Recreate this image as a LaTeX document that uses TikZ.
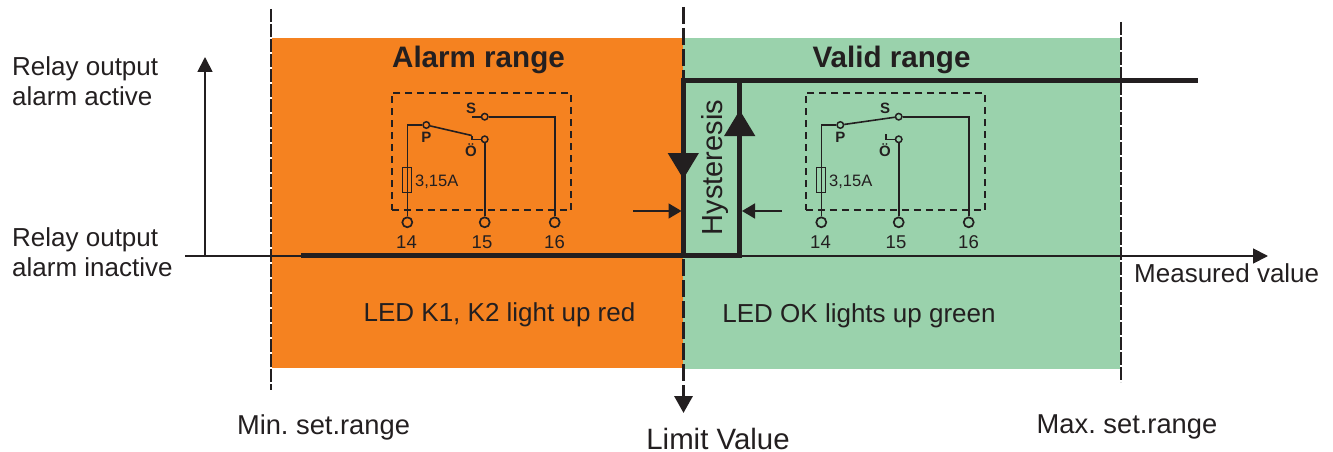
\documentclass[tikz,border=0pt]{standalone}
\usepackage{fontspec}
\setmainfont{Liberation Sans}
\frenchspacing
\usepackage{xcolor}
\definecolor{AlarmOrange}{RGB}{245, 130, 32}
\definecolor{ValidGreen}{RGB}{154, 210, 172}
\definecolor{InkBlack}{RGB}{35, 31, 32}
\usetikzlibrary{arrows.meta, positioning, calc}

\begin{document}
\begin{tikzpicture}[
  x=1pt, y=-1pt, color=InkBlack,
  lbl/.style={inner sep=0pt, align=left, font=\fontsize{26}{30}\selectfont},
  rangelbl/.style={inner sep=0pt, font=\fontsize{29.6}{33}\selectfont\bfseries},
  contact/.style={circle, draw, inner sep=0pt, minimum size=6.5pt, line width=1.5pt},
  terminal/.style={circle, draw, inner sep=0pt, minimum size=10pt, line width=1.7pt},
  pinlbl/.style={inner sep=0pt, font=\fontsize{15}{16}\selectfont\bfseries},
  numlbl/.style={inner sep=0pt, font=\fontsize{18.5}{20}\selectfont},
  wire/.style={line width=1.6pt},
  limit/.style={dash pattern=on 13pt off 2pt, line width=2.4pt},
  limitmid/.style={dash pattern=on 17pt off 4pt, line width=3.3pt},
  signal/.style={line width=4.6pt, line cap=butt, line join=miter},
  arr/.style={-{Triangle[length=15pt,width=15pt]}, line width=1.8pt},
  markarr/.style={-{Triangle[length=13pt,width=15pt]}, line width=1.7pt},
  bigarr/.style={-{Triangle[length=26pt,width=30pt]}, line width=4.6pt}
]
  \useasboundingbox (0,0) rectangle (1333,452);

  % ranges
  \node[fill=AlarmOrange, inner sep=0pt, minimum width=411pt, minimum height=330pt] (alarm) at (477.5,203) {};
  \node[fill=ValidGreen, inner sep=0pt, minimum width=437pt, minimum height=330pt] (valid) at (901.5,203.5) {};
  \node[rangelbl] (alarmlbl) at (478.5,60) {Alarm range};
  \node[rangelbl] (validlbl) at (891.5,60) {Valid range};
  \node[lbl] (alarmled) at (499.5,315) {LED K1, K2 light up red};
  \node[lbl] (validled) at (859,316) {LED OK lights up green};

  % relay boxes
  \foreach \rel/\dx in {a/0, b/414} {
    \begin{scope}[shift={(\dx,0)}, name prefix=\rel-]
      \node[draw, dash pattern=on 7pt off 5pt, line width=1.8pt, inner sep=0pt, minimum width=179.5pt, minimum height=117.5pt] (box) at (481.5,151.5) {};
      \node[contact] (P) at (426.3,125) {};
      \node[contact] (S) at (484.7,116.7) {};
      \node[contact] (O) at (484.7,139.3) {};
      \node[terminal] (t14) at (407.3,222.3) {};
      \node[terminal] (t15) at (484.7,222.3) {};
      \node[terminal] (t16) at (554.7,222.3) {};
      \node[draw, inner sep=0pt, line width=1pt, minimum width=8.7pt, minimum height=25pt] (fuse) at (407.3,179.8) {};
      \node[numlbl] (n14) at (406.5,242) {14};
      \node[numlbl] (n15) at (482,242) {15};
      \node[numlbl] (n16) at (554.5,242) {16};
      \node[pinlbl] (Pl) at (426.3,137.5) {P};
      \node[pinlbl] (Sl) at (471,108.5) {S};
      \node[pinlbl] (Ol) at (471,150.5) {Ö};
      \node[inner sep=0pt, anchor=west, font=\fontsize{16.5}{18}\selectfont] (fuselbl) at (415,181.5) {3,15A};
      \draw[wire] (t14) |- (P);
      \draw[wire] (t15) -- (O);
      \draw[wire] (t16) |- (S);
    \end{scope}
  }

  % contact arms
  \coordinate (a-Sstub) at (471.7,116.7);
  \coordinate (a-Ostub) at (471.7,139.3);
  \coordinate (a-Otick) at (471.7,135.5);
  \coordinate (b-Ostub) at (885.7,139.3);
  \coordinate (b-Otick) at (885.7,134.3);
  \draw[wire] (a-S) -- (a-Sstub);
  \draw[wire] (a-P) -- (a-Otick);
  \draw[wire] (a-O) -- (a-Ostub) -- (a-Otick);
  \draw[wire] (b-P) -- (b-S);
  \draw[wire] (b-O) -- (b-Ostub) -- (b-Otick);

  % axes
  \coordinate (yfoot) at (205,256);
  \coordinate (ytop) at (205,57);
  \coordinate (xleft) at (185,256);
  \coordinate (xright) at (1268,256);
  \draw[arr] (yfoot) -- (ytop);
  \draw[arr] (xleft) -- (xright);

  % set range limits
  \coordinate (mintop) at (271,9);
  \coordinate (minend) at (271,390);
  \coordinate (maxtop) at (1121,22);
  \coordinate (maxend) at (1121,382);
  \coordinate (limtop) at (683.5,7);
  \coordinate (limend) at (683.5,397);
  \coordinate (limtip) at (683.5,413);
  \draw[limit] (mintop) -- (minend);
  \draw[limit] (maxtop) -- (maxend);
  \draw[limitmid] (limtop) -- (limend);
  \draw[markarr, line width=3.3pt, -{Triangle[length=17pt,width=18pt]}] (limend) -- (limtip);

  % hysteresis loop
  \coordinate (sigstart) at (301,255.5);
  \coordinate (sigup) at (683.3,255.5);
  \coordinate (sigtop) at (683.3,80.5);
  \coordinate (sigend) at (1198,80.5);
  \coordinate (sigdown) at (739.7,80.5);
  \coordinate (sigfoot) at (739.7,255.5);
  \coordinate (dntip) at (683.3,179);
  \coordinate (uptip) at (739.7,110);
  \draw[signal] (sigstart) -- (sigup) -- (sigtop) -- (sigend);
  \draw[signal] (sigup) -- (sigfoot) -- (sigdown);
  \draw[bigarr] (sigtop) -- (dntip);
  \draw[bigarr] (sigfoot) -- (uptip);
  \node[rotate=90, inner sep=0pt, font=\fontsize{29}{33}\selectfont] (hyst) at (714.5,167.5) {Hysteresis};

  % hysteresis marks
  \coordinate (markl) at (633,211);
  \coordinate (markr) at (782,211);
  \coordinate (markltip) at (681.5,211);
  \coordinate (markrtip) at (742,211);
  \draw[markarr] (markl) -- (markltip);
  \draw[markarr] (markr) -- (markrtip);

  \node[lbl, anchor=west] (active) at (12,81) {Relay output\\alarm active};
  \node[lbl, anchor=west] (inactive) at (12,252.5) {Relay output\\alarm inactive};
  \node[lbl, anchor=west] (measured) at (1134,273.5) {Measured value};
  \node[lbl, font=\fontsize{27.3}{30}\selectfont] (minset) at (323.5,427) {Min. set.range};
  \node[lbl, font=\fontsize{27.3}{30}\selectfont] (maxset) at (1127,427) {Max. set.range};
  \node[lbl, font=\fontsize{29.4}{32}\selectfont] (limitval) at (718,438.5) {Limit Value};
\end{tikzpicture}
\end{document}
